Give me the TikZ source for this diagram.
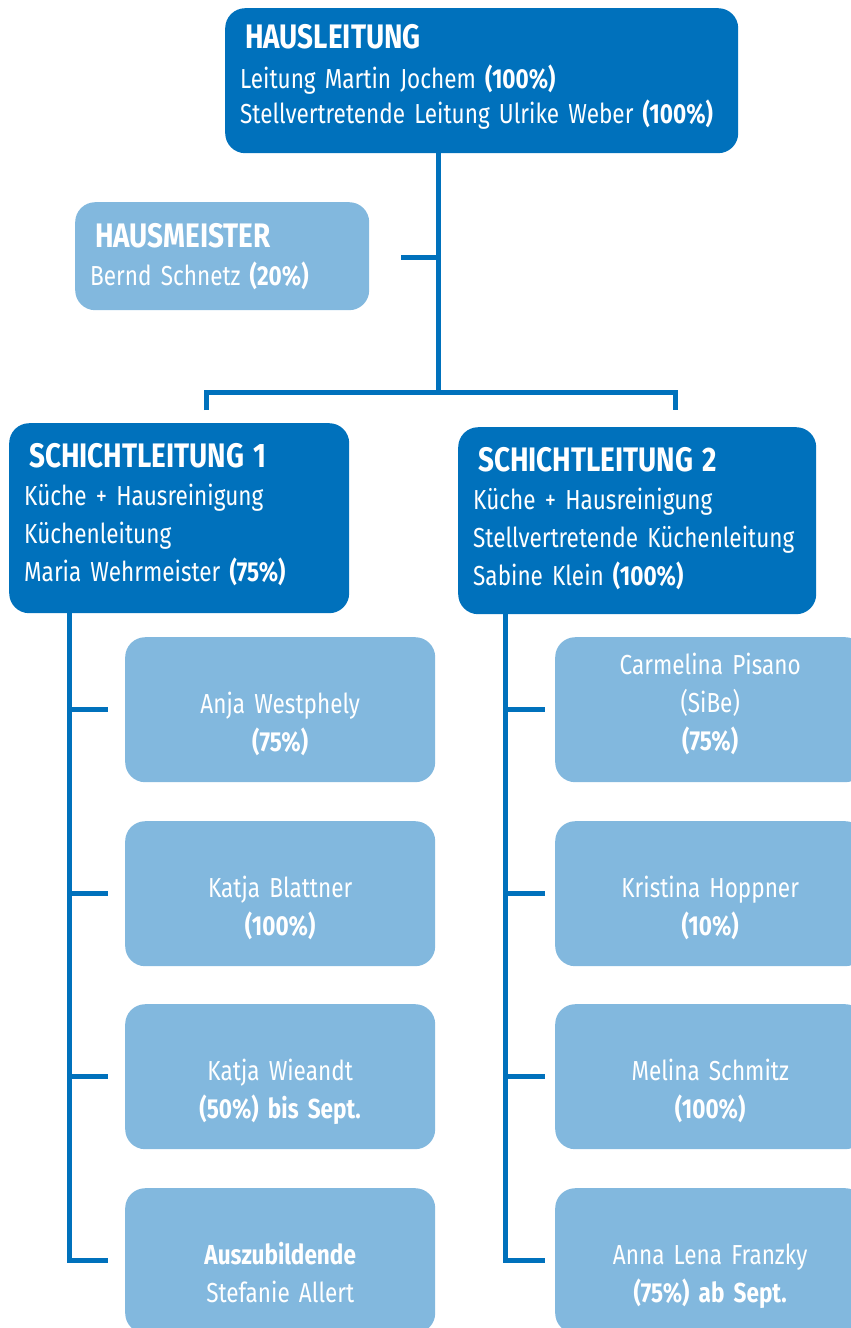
\documentclass[tikz,border=0pt]{standalone}
\usepackage{fontspec}
\setmainfont{Fira Sans}[FakeStretch=0.82]
\definecolor{darkblue}{HTML}{0071BC}
\definecolor{lightblue}{HTML}{82B8DE}
\newcommand{\headfont}{\fontsize{34}{40}\selectfont\bfseries}
\newcommand{\bodyfont}{\fontsize{27.5}{38}\selectfont\fontdimen2\font=5pt}
\tikzset{
  box/.style={rounded corners=20pt, text=white, anchor=north west, inner xsep=15pt, inner ysep=0pt, align=left, font=\bodyfont},
  headbox/.style={box, fill=darkblue},
  sidebox/.style={box, fill=lightblue},
  staffbox/.style={fill=lightblue, rounded corners=20pt, text=white, anchor=north west, text width=310pt, inner sep=0pt, align=center, font=\bodyfont, text height=76pt, text depth=69pt}
}

\begin{document}
\begin{tikzpicture}[x=1pt,y=-1pt]
  \useasboundingbox (0,0) rectangle (851,1328);

  \node [headbox, text width=483pt, text height=40pt, text depth=105pt, font={\bodyfont\baselineskip=35pt}] (haus) at (225,8)
    {{\headfont\hspace*{5pt}HAUSLEITUNG}\\[5pt]
     Leitung Martin Jochem \textbf{(100\%)}\\
     Stellvertretende Leitung Ulrike Weber \textbf{(100\%)}};
  \node [sidebox, text width=264pt, text height=45pt, text depth=63pt] (meister) at (75,202)
    {{\headfont\hspace*{5pt}HAUSMEISTER}\\
     Bernd Schnetz \textbf{(20\%)}};
  \node [headbox, text width=310pt, text height=44pt, text depth=146pt] (s1) at (9,423)
    {{\headfont\hspace*{5pt}SCHICHTLEITUNG 1}\\
     K\"uche + Hausreinigung\\
     K\"uchenleitung\\
     Maria Wehrmeister \textbf{(75\%)}};
  \node [headbox, text width=328pt, text height=44pt, text depth=143pt] (s2) at (458,427)
    {{\headfont\hspace*{5pt}SCHICHTLEITUNG 2}\\
     K\"uche + Hausreinigung\\
     Stellvertretende K\"uchenleitung\\
     Sabine Klein \textbf{(100\%)}};

  \node [staffbox] (a1) at (125,637) {Anja Westphely\\\textbf{(75\%)}};
  \node [staffbox] (a2) at (125,821) {Katja Blattner\\\textbf{(100\%)}};
  \node [staffbox] (a3) at (125,1004) {Katja Wieandt\\\textbf{(50\%) bis Sept.}};
  \node [staffbox] (a4) at (125,1188) {\textbf{Auszubildende}\\Stefanie Allert};
  \node [staffbox, text height=37pt, text depth=108pt] (b1) at (555,637) {Carmelina Pisano\\(SiBe)\\\textbf{(75\%)}};
  \node [staffbox] (b2) at (555,821) {Kristina Hoppner\\\textbf{(10\%)}};
  \node [staffbox] (b3) at (555,1004) {Melina Schmitz\\\textbf{(100\%)}};
  \node [staffbox] (b4) at (555,1188) {Anna Lena Franzky\\\textbf{(75\%) ab Sept.}};

  \coordinate (trunk) at (438,392);
  \coordinate (mtick) at (401,257);
  \coordinate (barL) at (206,410);
  \coordinate (barR) at (675,410);
  \coordinate (spineL) at (69,0);
  \coordinate (spineR) at (505,0);

  \draw [darkblue, line width=5pt] (haus.south -| trunk) -- (trunk);
  \draw [darkblue, line width=5pt] (mtick) -- (mtick -| trunk);
  \draw [darkblue, line width=5pt] (barL) |- (trunk) -| (barR);
  \draw [darkblue, line width=5pt] (s1.south -| spineL) -- (spineL |- a4.west) -- ++(39,0);
  \draw [darkblue, line width=5pt] (s2.south -| spineR) -- (spineR |- b4.west) -- ++(40,0);
  \foreach \n in {a1,a2,a3}
    \draw [darkblue, line width=5pt] (spineL |- \n.west) -- ++(39,0);
  \foreach \n in {b1,b2,b3}
    \draw [darkblue, line width=5pt] (spineR |- \n.west) -- ++(40,0);
\end{tikzpicture}
\end{document}
